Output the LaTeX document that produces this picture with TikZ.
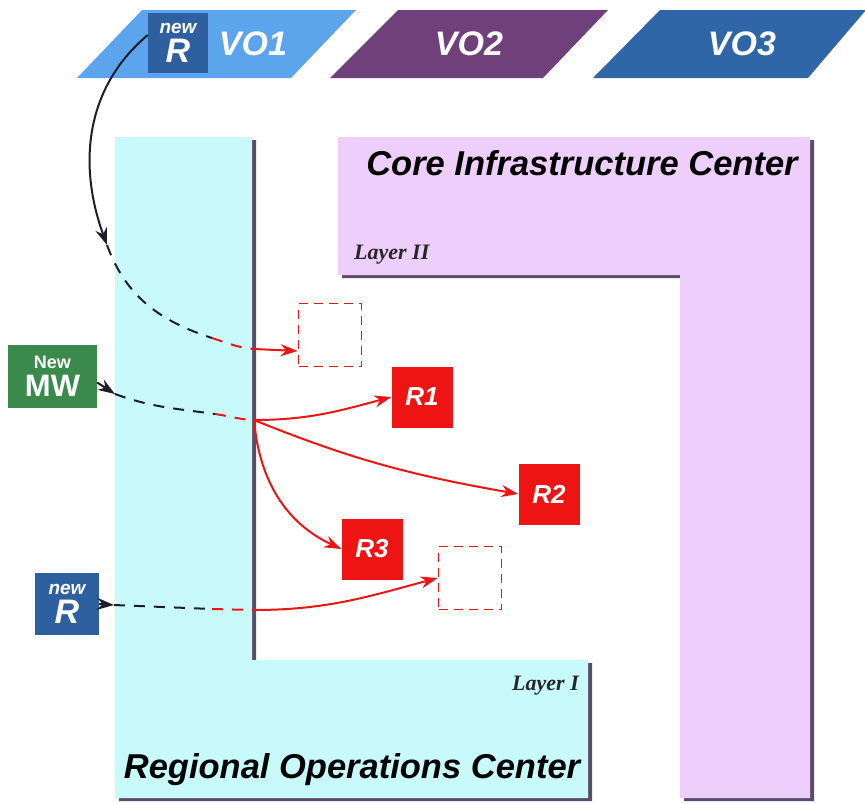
\documentclass[tikz,border=0pt]{standalone}
\usepackage{fontspec}
\setmainfont{Liberation Serif}
\setsansfont{Liberation Sans}
\usepackage{tikz}
\usetikzlibrary{arrows.meta,positioning,calc}
\definecolor{rocCyan}{RGB}{200,250,252}
\definecolor{cicPink}{RGB}{238,206,250}
\definecolor{edgeShade}{RGB}{92,76,108}
\definecolor{voLight}{RGB}{92,164,236}
\definecolor{voPurple}{RGB}{112,64,122}
\definecolor{voBlue}{RGB}{46,102,168}
\definecolor{newBlue}{RGB}{46,96,160}
\definecolor{mwGreen}{RGB}{58,138,76}
\definecolor{resRed}{RGB}{238,20,20}
\definecolor{flowBlack}{RGB}{30,30,40}
\tikzset{
  bigtitle/.style={
    font=\sffamily\bfseries\itshape\fontsize{34.5}{38}\selectfont,
    inner sep=0pt
  },
  layertag/.style={
    font=\rmfamily\bfseries\itshape\fontsize{22}{24}\selectfont,
    inner sep=0pt, text=black!85
  },
  votag/.style={
    font=\sffamily\bfseries\itshape\fontsize{34}{36}\selectfont,
    text=white, inner sep=0pt
  },
  resbox/.style={
    rectangle, fill=resRed, minimum width=61pt, minimum height=61pt,
    inner sep=0pt, text=white,
    font=\sffamily\bfseries\itshape\fontsize{26}{28}\selectfont
  },
  slotbox/.style={
    rectangle, draw=resRed, line width=1.8pt, dash pattern=on 9pt off 6pt,
    minimum width=63pt, minimum height=63pt, inner sep=0pt
  },
  newbox/.style={
    rectangle, fill=newBlue, text=white, inner sep=0pt, align=center,
    font=\sffamily\bfseries\itshape
  },
  mwbox/.style={newbox, fill=mwGreen, font=\sffamily\bfseries},
  flow/.style={line width=2pt, color=flowBlack},
  flowIn/.style={flow, -{Stealth[length=17pt,width=12pt]}},
  flowDash/.style={flow, dash pattern=on 11pt off 9pt},
  redDash/.style={flowDash, color=resRed},
  redArrow/.style={line width=2pt, color=resRed,
    -{Stealth[length=17pt,width=12pt]}}
}
\begin{document}
\begin{tikzpicture}[x=1pt,y=-1pt]
\useasboundingbox (0,0) rectangle (865,803);

% layer areas
\fill[edgeShade,shift={(4,3)}] (115,137) -- (252,137) -- (252,660)
  -- (588,660) -- (588,798) -- (115,798) -- cycle;
\fill[rocCyan] (115,137) -- (252,137) -- (252,660)
  -- (588,660) -- (588,798) -- (115,798) -- cycle;
\fill[edgeShade,shift={(4,3)}] (338,137) -- (810,137) -- (810,798)
  -- (680,798) -- (680,275) -- (338,275) -- cycle;
\fill[cicPink] (338,137) -- (810,137) -- (810,798)
  -- (680,798) -- (680,275) -- (338,275) -- cycle;

\node[bigtitle] (cic) at (582,163) {Core Infrastructure Center};
\node[bigtitle] (roc) at (352,770) {Regional Operations Center};
\node[layertag, anchor=west] (layer2) at (354,255) {Layer II};
\node[layertag, anchor=east] (layer1) at (579,686) {Layer I};

% virtual organisations
\fill[voLight]  (142,10) -- (356,10) -- (291,78) -- (77,78) -- cycle;
\fill[voPurple] (398,10) -- (608,10) -- (543,78) -- (330,78) -- cycle;
\fill[voBlue]   (660,10) -- (866,10) -- (808,78) -- (593,78) -- cycle;
\node[votag] (vo1) at (253,44) {VO1};
\node[votag] (vo2) at (469,44) {VO2};
\node[votag] (vo3) at (742,44) {VO3};

% new components
\node[newbox, minimum width=60pt, minimum height=60pt] (newR1) at (178,43)
  {\fontsize{19}{22}\selectfont new\\[4pt]\fontsize{34}{36}\selectfont R};
\node[mwbox, minimum width=89pt, minimum height=63pt] (newMW) at (52.5,376.5)
  {\fontsize{18}{21}\selectfont New\\[5pt]\fontsize{31}{33}\selectfont MW};
\node[newbox, minimum width=64pt, minimum height=62pt] (newR2) at (67,604)
  {\fontsize{19}{22}\selectfont new\\[4pt]\fontsize{34}{36}\selectfont R};

% resources
\node[resbox] (r1) at (422,397) {R1};
\node[resbox] (r2) at (549,494) {R2};
\node[resbox] (r3) at (372,549) {R3};
\node[slotbox] (slot1) at (330,335) {};
\node[slotbox] (slot2) at (470,578) {};

\coordinate (tip1) at (107,245);
\coordinate (mid1) at (212,338);
\coordinate (edge1) at (254,349);
\coordinate (tip2) at (115,394);
\coordinate (mid2) at (215,414);
\coordinate (hub) at (254,420);
\coordinate (tip3) at (114,605);
\coordinate (mid3) at (212,609);
\coordinate (edge3) at (254,610);

\draw[flowIn] ($(newR1.west)+(0,-8)$) to[out=220,in=110] (tip1);
\draw[flowDash] (tip1) to[out=-70,in=162] (mid1);
\draw[redDash] (mid1) to[out=-18,in=175] (edge1);
\draw[redArrow] (edge1) -- ($(slot1.west)+(0,16)$);

\draw[flowIn] ($(newMW.east)+(0,6)$) -- (tip2);
\draw[flowDash] (tip2) to[out=-20,in=172] (mid2);
\draw[redDash] (mid2) to[out=-8,in=178] (hub);
\draw[redArrow] (hub) to[out=0,in=195] (r1.west);
\draw[redArrow] (hub) to[out=-22,in=170] (r2.west);
\draw[redArrow] (hub) to[out=-85,in=155] (r3.west);

\draw[flowIn] (newR2.east) -- (tip3);
\draw[flowDash] (tip3) -- (mid3);
\draw[redDash] (mid3) -- (edge3);
\draw[redArrow] (edge3) to[out=0,in=195] (slot2.west);
\end{tikzpicture}
\end{document}
